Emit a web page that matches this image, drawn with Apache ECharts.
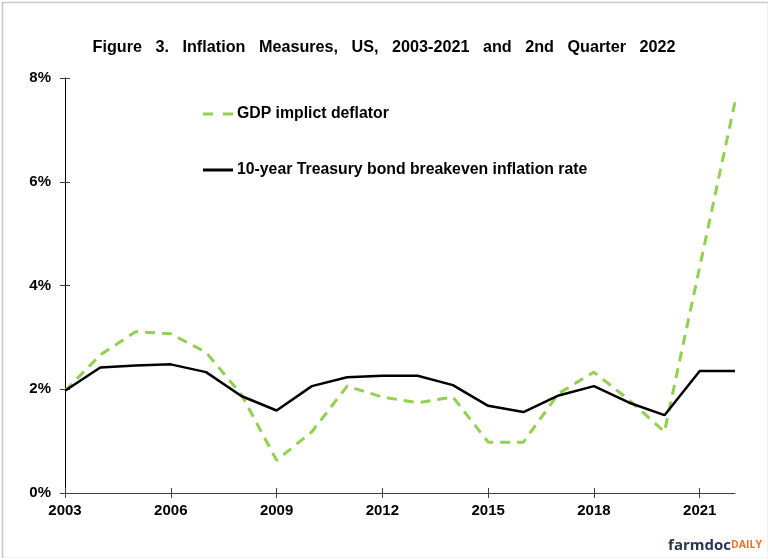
<!DOCTYPE html>
<html>
<head>
<meta charset="utf-8">
<script src="https://cdn.jsdelivr.net/npm/echarts@6/dist/echarts.min.js"></script>
<style>
html,body{margin:0;padding:0;background:#fff;}
#c{width:768px;height:558px;}
</style>
</head>
<body>
<div id="c"></div>
<script>
const years = ['2003','2004','2005','2006','2007','2008','2009','2010','2011','2012','2013','2014','2015','2016','2017','2018','2019','2020','2021','2022'];
const gdpDeflator = [1.97,2.66,3.11,3.07,2.71,1.90,0.63,1.18,2.06,1.85,1.74,1.85,0.98,0.98,1.92,2.33,1.79,1.18,4.36,7.54];
const breakeven = [1.97,2.42,2.46,2.48,2.33,1.87,1.59,2.06,2.23,2.26,2.26,2.08,1.68,1.56,1.88,2.06,1.74,1.50,2.35,2.35];
const yTicks = [0,2,4,6,8];
const titleText = 'Figure   3.   Inflation   Measures,   US,   2003-2021   and   2nd   Quarter   2022';
const seriesNames = ['GDP implict deflator','10-year Treasury bond breakeven inflation rate'];

const chart = echarts.init(document.getElementById('c'));
const FONT = '"Liberation Sans", Arial, sans-serif';
chart.setOption({
  animation: false,
  backgroundColor: '#fff',
  textStyle: {fontFamily: FONT},
  title: {
    text: titleText, left: 'center', top: 35,
    textStyle: {fontFamily: FONT, fontSize: 16.2, fontWeight: 'bold', color: '#000'}
  },
  legend: {
    orient: 'vertical', left: 203, top: 106, itemGap: 40, padding: 0,
    itemWidth: 30, itemHeight: 3,
    textStyle: {fontFamily: FONT, fontSize: 15.8, fontWeight: 'bold', color: '#000', padding: [0,0,0,-1]},
    data: [
      {name: seriesNames[0], icon: 'path://M0,0h10v3h-10z M20,0h10v3h-10z'},
      {name: seriesNames[1], icon: 'path://M0,0h30v3h-30z'}
    ]
  },
  grid: {left: 65, right: 33, top: 78, bottom: 65, containLabel: false},
  xAxis: [{
    type: 'category', data: years, boundaryGap: false, position: 'bottom',
    axisLine: {lineStyle: {color: '#404040', width: 1}},
    axisTick: {interval: 2, length: 5, lineStyle: {color: '#404040'}},
    axisLabel: {interval: 2, fontFamily: FONT, fontSize: 15, fontWeight: 'bold', color: '#000', margin: 10},
    splitLine: {show: false}
  },{
    type: 'category', data: years, boundaryGap: false, position: 'bottom',
    axisLine: {show: false},
    axisTick: {interval: 2, inside: true, length: 5, lineStyle: {color: '#404040'}},
    axisLabel: {show: false}
  }],
  yAxis: [{
    type: 'value', min: yTicks[0], max: yTicks[yTicks.length-1], interval: 2, position: 'left',
    axisLine: {show: true, lineStyle: {color: '#000', width: 1}},
    axisTick: {show: true, length: 5, lineStyle: {color: '#404040'}},
    axisLabel: {fontFamily: FONT, fontSize: 15, fontWeight: 'bold', color: '#000', margin: 14, formatter: v => v + '%'},
    splitLine: {show: false}
  },{
    type: 'value', min: yTicks[0], max: yTicks[yTicks.length-1], interval: 2, position: 'left',
    axisLine: {show: false},
    axisTick: {show: true, inside: true, length: 5, lineStyle: {color: '#404040'}},
    axisLabel: {show: false},
    splitLine: {show: false}
  }],
  series: [{
    name: seriesNames[0], type: 'line', data: gdpDeflator, xAxisIndex: 0, yAxisIndex: 0,
    showSymbol: false, symbol: 'none', smooth: false, z: 2,
    lineStyle: {color: '#92d050', width: 3, type: [10,7]},
    itemStyle: {color: '#92d050'}
  },{
    name: seriesNames[1], type: 'line', data: breakeven, xAxisIndex: 0, yAxisIndex: 0,
    showSymbol: false, symbol: 'none', smooth: false, z: 3,
    lineStyle: {color: '#000', width: 2.5},
    itemStyle: {color: '#000'}
  }],
  graphic: [{
    type: 'rect', left: 0, top: 0, silent: true,
    shape: {x: 0.5, y: 0.5, width: 766, height: 556},
    style: {fill: 'none', stroke: '#c8c8c8', lineWidth: 1.5}
  },{
    type: 'text', right: 6, top: 538,
    style: {
      text: '{a|farmdoc}{b|DAILY}',
      rich: {
        a: {fontFamily: '"Open Sans", ' + FONT, fontSize: 15, fontWeight: 'bold', fill: '#2a3553'},
        b: {fontFamily: '"Open Sans", ' + FONT, fontSize: 10.5, fontWeight: 'bold', fill: '#e8772e'}
      }
    }
  }]
});
</script>
</body>
</html>
